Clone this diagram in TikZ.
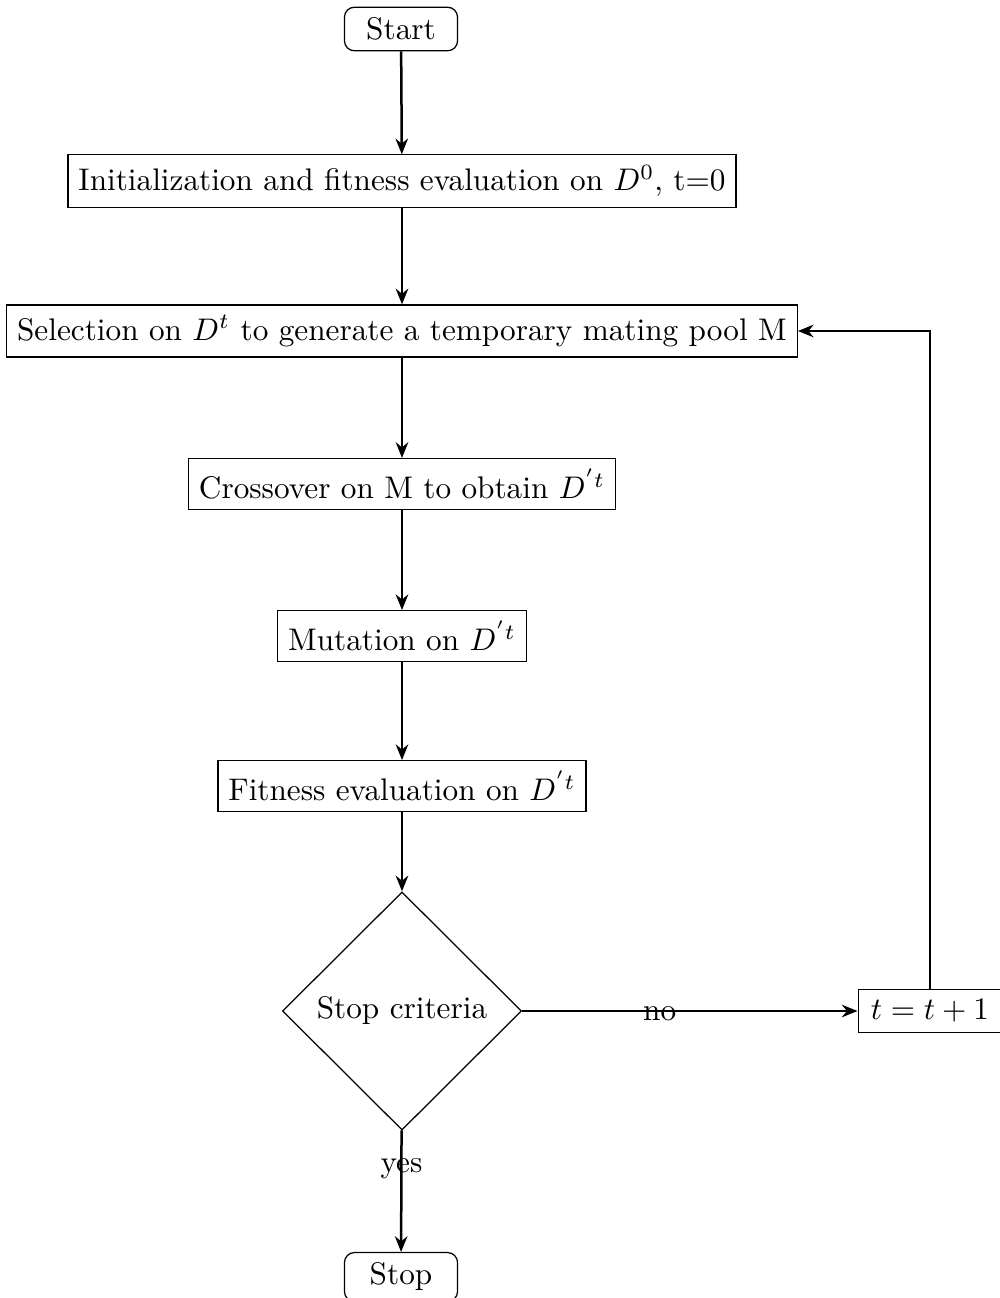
\documentclass[tikz,border=0pt]{standalone}
\usetikzlibrary{shapes.geometric,arrows.meta}
\begin{document}
\begin{tikzpicture}[x=0.32pt,y=-0.32pt,
 box/.style={draw,rectangle},
 term/.style={draw,rounded corners=3.2pt,minimum width=36.2pt,minimum height=13.4pt},
 dec/.style={draw,diamond,aspect=1,inner sep=0pt,minimum width=76.5pt,minimum height=76.2pt},
 conn/.style={thick,-{Stealth[length=5pt,width=4pt]}},
]
\useasboundingbox (0,0) rectangle (1000,1298);
\node[term] (start) at (401,29) {Start};
\node[box] (init) at (402,181) {Initialization and fitness evaluation on $D^0$, t=0};
\node[box] (sel) at (402,331) {Selection on $D^t$ to generate a temporary mating pool M};
\node[box] (cross) at (402,484) {Crossover on M to obtain $D^{'t}$};
\node[box] (mut) at (402,636) {Mutation on $D^{'t}$};
\node[box] (fit) at (402,786) {Fitness evaluation on $D^{'t}$};
\node[dec] (stopc) at (402,1011) {Stop criteria};
\node[box,minimum height=13.8pt,minimum width=46pt] (inc) at (930,1011) {$t=t+1$};
\node[term,minimum height=15pt] (stop) at (401,1277) {Stop};
\coordinate (corner) at (inc.north |- sel.east);
\draw[conn] (start) -- (init);
\draw[conn] (init) -- (sel);
\draw[conn] (sel) -- (cross);
\draw[conn] (cross) -- (mut);
\draw[conn] (mut) -- (fit);
\draw[conn] (fit) -- (stopc);
\draw[conn] (stopc) -- node[pos=0.41,yshift=-1pt] {no} (inc);
\draw[conn] (stopc) -- node[pos=0.32] {yes} (stop);
\draw[conn] (inc.north) -- (corner) -- (sel.east);
\end{tikzpicture}
\end{document}
